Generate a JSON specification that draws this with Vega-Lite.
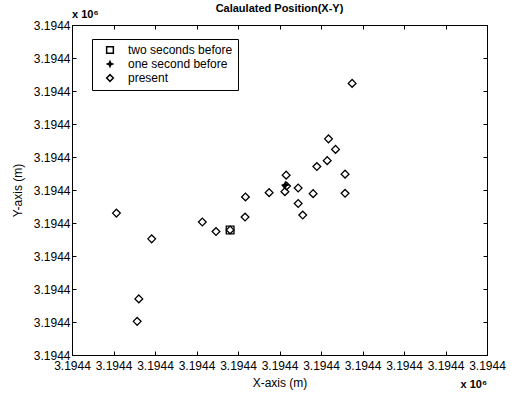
{
  "$schema": "https://vega.github.io/schema/vega-lite/v6.json",
  "width": 415,
  "height": 330,
  "autosize": {"type": "none"},
  "padding": {"left": 72, "top": 25, "right": 24, "bottom": 44},
  "background": "white",
  "title": {"text": "Calaulated Position(X-Y)", "font": "Liberation Sans", "fontSize": 11, "fontWeight": "bold", "color": "black", "anchor": "middle", "offset": -5},
  "config": {
    "view": {"stroke": "black", "strokeWidth": 1},
    "axis": {"grid": false, "domainColor": "black", "tickColor": "black", "labelColor": "black", "titleColor": "black", "labelFont": "Liberation Sans", "titleFont": "Liberation Sans", "labelFontSize": 12, "titleFontSize": 12, "titleFontWeight": "normal", "tickSize": -4, "labelFlush": false, "labelOverlap": false, "labelPadding": 3},
    "legend": {"labelFont": "Liberation Sans", "labelFontSize": 12, "labelColor": "black"}
  },
  "datasets": {
    "pts": [
      {"series": "present", "x": 3194431.07, "y": 3194424.30},
      {"series": "present", "x": 3194431.92, "y": 3194423.52},
      {"series": "present", "x": 3194431.61, "y": 3194421.70},
      {"series": "present", "x": 3194431.57, "y": 3194421.02},
      {"series": "present", "x": 3194433.14, "y": 3194424.03},
      {"series": "present", "x": 3194433.47, "y": 3194423.74},
      {"series": "present", "x": 3194433.81, "y": 3194423.79},
      {"series": "present", "x": 3194434.18, "y": 3194424.79},
      {"series": "present", "x": 3194434.17, "y": 3194424.18},
      {"series": "present", "x": 3194434.75, "y": 3194424.92},
      {"series": "present", "x": 3194435.16, "y": 3194425.45},
      {"series": "present", "x": 3194435.17, "y": 3194425.12},
      {"series": "present", "x": 3194435.13, "y": 3194424.95},
      {"series": "present", "x": 3194435.45, "y": 3194425.06},
      {"series": "present", "x": 3194435.45, "y": 3194424.59},
      {"series": "present", "x": 3194435.56, "y": 3194424.24},
      {"series": "present", "x": 3194435.81, "y": 3194424.89},
      {"series": "present", "x": 3194435.90, "y": 3194425.71},
      {"series": "present", "x": 3194436.15, "y": 3194425.89},
      {"series": "present", "x": 3194436.18, "y": 3194426.55},
      {"series": "present", "x": 3194436.35, "y": 3194426.23},
      {"series": "present", "x": 3194436.58, "y": 3194425.48},
      {"series": "present", "x": 3194436.58, "y": 3194424.90},
      {"series": "present", "x": 3194436.75, "y": 3194428.23},
      {"series": "two seconds before", "x": 3194433.81, "y": 3194423.79},
      {"series": "one second before", "x": 3194435.14, "y": 3194425.15}
    ]
  },
  "resolve": {"axis": {"x": "independent", "y": "independent"}},
  "layer": [
    {
      "data": {"name": "pts"},
      "mark": {"type": "point", "size": 60, "stroke": "black", "strokeWidth": 1.3, "opacity": 1},
      "encoding": {
        "x": {"field": "x", "type": "quantitative", "scale": {"domain": [3194430, 3194440], "nice": false, "zero": false}, "axis": {"orient": "bottom", "tickCount": 10, "labelExpr": "format(datum.value / 1000000, '.4f')", "labelPadding": 9, "title": "X-axis (m)", "titlePadding": 6}},
        "y": {"field": "y", "type": "quantitative", "scale": {"domain": [3194420, 3194430], "nice": false, "zero": false}, "axis": {"orient": "left", "tickCount": 10, "labelExpr": "format(datum.value / 1000000, '.4f')", "labelPadding": 6, "title": "Y-axis (m)", "titlePadding": 9}},
        "shape": {"field": "series", "type": "nominal", "scale": {"domain": ["two seconds before", "one second before", "present"], "range": ["square", "M0,-0.75L0.22,-0.22L0.75,0L0.22,0.22L0,0.75L-0.22,0.22L-0.75,0L-0.22,-0.22Z", "diamond"]}, "legend": {"title": null, "orient": "none", "legendX": 20, "legendY": 14, "strokeColor": "black", "fillColor": "white", "padding": 5, "rowPadding": 1, "symbolOffset": 7, "labelOffset": 12, "symbolSize": 45, "encode": {"symbols": {"update": {"stroke": {"value": "black"}, "strokeWidth": {"value": 1.3}}}}}},
        "fill": {"field": "series", "type": "nominal", "scale": {"domain": ["two seconds before", "one second before", "present"], "range": ["transparent", "black", "transparent"]}, "legend": {"title": null, "orient": "none", "legendX": 20, "legendY": 14, "strokeColor": "black", "fillColor": "white", "padding": 5, "rowPadding": 1, "symbolOffset": 7, "labelOffset": 12, "symbolSize": 45, "encode": {"symbols": {"update": {"stroke": {"value": "black"}, "strokeWidth": {"value": 1.3}}}}}}
      }
    },
    {
      "data": {"name": "pts"},
      "mark": {"type": "point", "opacity": 0},
      "encoding": {
        "x": {"field": "x", "type": "quantitative", "axis": {"orient": "top", "tickCount": 10, "labels": false, "title": null}},
        "y": {"field": "y", "type": "quantitative", "axis": {"orient": "right", "tickCount": 10, "labels": false, "title": null}}
      }
    },
    {
      "data": {"values": [{"label": "x 10⁶"}]},
      "mark": {"type": "text", "font": "Liberation Sans", "fontSize": 11, "fontWeight": "bold", "color": "black", "align": "left", "baseline": "middle", "dy": -10},
      "encoding": {
        "x": {"datum": 3194430, "type": "quantitative", "axis": null},
        "y": {"datum": 3194430, "type": "quantitative", "axis": null},
        "text": {"field": "label"}
      }
    },
    {
      "data": {"values": [{"label": "x 10⁶"}]},
      "mark": {"type": "text", "font": "Liberation Sans", "fontSize": 11, "fontWeight": "bold", "color": "black", "align": "right", "baseline": "middle", "dy": 30},
      "encoding": {
        "x": {"datum": 3194440, "type": "quantitative", "axis": null},
        "y": {"datum": 3194420, "type": "quantitative", "axis": null},
        "text": {"field": "label"}
      }
    }
  ]
}
